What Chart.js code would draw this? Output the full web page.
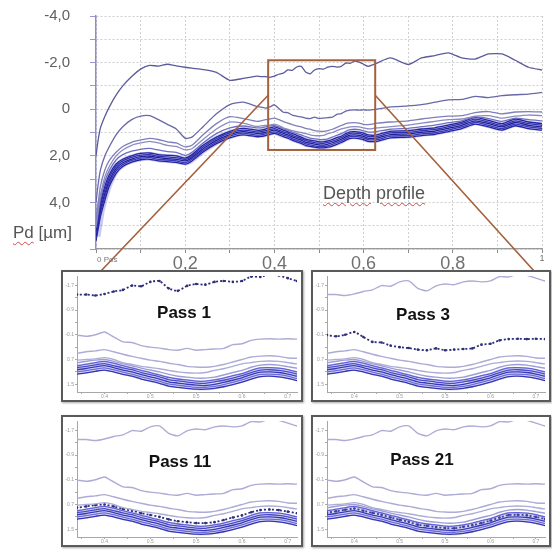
<!DOCTYPE html>
<html>
<head>
<meta charset="utf-8">
<script src="https://cdn.jsdelivr.net/npm/chart.js@4.4.1/dist/chart.umd.min.js"></script>
<style>
  body { margin: 0; background: #fff; width: 552px; height: 551px; position: relative; overflow: hidden;
         font-family: 'Liberation Sans', Arial, sans-serif; }
  #main { position: absolute; left: 0; top: 0; }
  .inset { position: absolute; box-sizing: border-box; border: 2px solid #5a5a5a; background: #fff;
           box-shadow: 1px 1px 2px rgba(0,0,0,0.35); }
  .inset canvas { position: absolute; left: 0; top: 0; }
  .pass { position: absolute; font-weight: bold; font-size: 17px; color: #111; transform: translate(-50%, -50%); white-space: nowrap; }
  .note { position: absolute; color: #555; white-space: nowrap; }
  .spell { text-decoration: underline wavy #d04a4a; text-decoration-thickness: 1px; text-underline-offset: 3px; }
</style>
</head>
<body>
<canvas id="main" width="552" height="272"></canvas>
<div class="note" style="left:13px;top:223px;font-size:17px"><span class="spell">Pd</span> [µm]</div>
<div class="note" style="left:323px;top:183px;font-size:18px"><span class="spell">Depth</span> <span class="spell">profile</span></div>
<div class="note" style="left:97px;top:255px;font-size:8px;color:#777">0 Pos</div>

<div class="inset" style="left:61px;top:270px;width:242px;height:132px">
  <canvas id="in1" width="238" height="128"></canvas><div class="pass" style="left:121px;top:41px">Pass 1</div></div>
<div class="inset" style="left:311px;top:270px;width:240px;height:132px">
  <canvas id="in3" width="236" height="128"></canvas><div class="pass" style="left:110px;top:43px">Pass 3</div></div>
<div class="inset" style="left:61px;top:415px;width:242px;height:132px">
  <canvas id="in11" width="238" height="128"></canvas><div class="pass" style="left:117px;top:45px">Pass 11</div></div>
<div class="inset" style="left:311px;top:415px;width:240px;height:132px">
  <canvas id="in21" width="236" height="128"></canvas><div class="pass" style="left:109px;top:43px">Pass 21</div></div>

<script>
// position along the scan (0 .. 1)
const xPos = [0, 0.005, 0.01, 0.02, 0.03, 0.045, 0.06, 0.08, 0.1, 0.12, 0.14, 0.16, 0.18, 0.2, 0.215, 0.24, 0.27, 0.3, 0.33,
  0.36, 0.37, 0.38, 0.39, 0.4, 0.41, 0.42, 0.43, 0.44, 0.45, 0.46, 0.47, 0.48, 0.49, 0.5, 0.51, 0.52, 0.53, 0.54, 0.55, 0.56, 0.57, 0.58, 0.59, 0.6, 0.61, 0.62, 0.63,
  0.66, 0.7, 0.73, 0.76, 0.79, 0.82, 0.85, 0.88, 0.91, 0.94, 0.97, 1.0];

// Pd depth in µm, one array per pass
const pass1 = [2.0, 1.3, 0.8, 0.3, -0.1, -0.6, -1.0, -1.4, -1.72, -1.88, -1.85, -1.93, -1.86, -1.8, -1.76, -1.7, -1.58, -1.24, -1.32,
  -1.42, -1.4, -1.4, -1.37, -1.42, -1.5, -1.55, -1.69, -1.67, -1.81, -1.84, -1.6, -1.52, -1.68, -1.74, -1.72, -1.81, -1.84, -1.81, -1.84, -1.98, -1.97, -2.06, -2.02, -1.93, -1.84, -1.9, -1.98,
  -2.2, -1.92, -2.2, -2.3, -2.42, -2.2, -2.15, -2.37, -2.37, -2.1, -1.8, -1.68];
const pass3 = [4.0, 3.2, 2.6, 2.0, 1.6, 1.1, 0.75, 0.45, 0.3, 0.28, 0.45, 0.65, 0.85, 1.25, 1.2, 0.75, 0.2, -0.2, -0.3,
  -0.12, -0.09, -0.05, -0.1, -0.19, -0.03, 0.13, 0.15, 0.25, 0.3, 0.33, 0.38, 0.4, 0.34, 0.4, 0.38, 0.36, 0.34, 0.22, 0.19, 0.08, 0.04, 0.03, 0.04, 0.03, 0.04, 0.02, 0.0,
  -0.1, -0.14, -0.2, -0.3, -0.4, -0.42, -0.55, -0.5, -0.58, -0.62, -0.65, -0.72];
const curveC = [4.8, 4.0, 3.3, 2.6, 2.2, 1.85, 1.6, 1.42, 1.32, 1.25, 1.3, 1.4, 1.45, 1.62, 1.55, 1.1, 0.62, 0.32, 0.4,
  0.52, 0.5, 0.45, 0.42, 0.38, 0.45, 0.53, 0.6, 0.66, 0.72, 0.76, 0.82, 0.86, 0.92, 0.94, 0.95, 0.92, 0.86, 0.78, 0.7, 0.62, 0.59, 0.58, 0.6, 0.65, 0.66, 0.64, 0.6,
  0.55, 0.5, 0.42, 0.35, 0.3, 0.28, 0.15, 0.1, 0.2, 0.12, 0.1, 0.12];
const curveD = [5.0, 4.3, 3.7, 2.9, 2.45, 2.0, 1.75, 1.55, 1.45, 1.38, 1.45, 1.55, 1.6, 1.75, 1.7, 1.3, 0.85, 0.55, 0.6,
  0.74, 0.72, 0.7, 0.68, 0.64, 0.7, 0.8, 0.86, 0.92, 0.96, 1.0, 1.05, 1.1, 1.13, 1.14, 1.12, 1.05, 1.0, 0.92, 0.84, 0.8, 0.76, 0.75, 0.76, 0.8, 0.84, 0.83, 0.8,
  0.75, 0.68, 0.6, 0.52, 0.45, 0.42, 0.3, 0.28, 0.38, 0.3, 0.25, 0.28];
const pass11 = [5.1, 4.45, 3.85, 3.1, 2.62, 2.18, 1.95, 1.8, 1.72, 1.68, 1.75, 1.82, 1.85, 1.98, 1.85, 1.45, 1.05, 0.8, 0.72,
  0.8, 0.8, 0.76, 0.72, 0.7, 0.76, 0.84, 0.9, 0.98, 1.04, 1.1, 1.18, 1.24, 1.27, 1.3, 1.3, 1.27, 1.2, 1.12, 1.05, 0.95, 0.88, 0.86, 0.88, 0.93, 0.98, 0.98, 0.96,
  0.86, 0.82, 0.75, 0.68, 0.58, 0.5, 0.33, 0.4, 0.52, 0.38, 0.45, 0.5];
const bundle1 = [5.2, 4.6, 4.0, 3.3, 2.8, 2.35, 2.15, 2.0, 1.9, 1.88, 1.95, 1.98, 2.0, 2.1, 1.95, 1.55, 1.2, 0.95, 0.82,
  0.9, 0.9, 0.85, 0.8, 0.76, 0.82, 0.9, 0.97, 1.05, 1.12, 1.2, 1.28, 1.33, 1.36, 1.4, 1.4, 1.36, 1.3, 1.22, 1.16, 1.05, 0.97, 0.96, 0.98, 1.03, 1.1, 1.12, 1.1,
  0.95, 0.92, 0.85, 0.8, 0.68, 0.55, 0.35, 0.48, 0.62, 0.42, 0.55, 0.62];
const pass21 = [5.35, 4.75, 4.15, 3.45, 2.92, 2.45, 2.22, 2.07, 1.97, 1.95, 2.02, 2.05, 2.08, 2.16, 2.02, 1.62, 1.27, 1.02, 0.9,
  0.97, 0.96, 0.92, 0.87, 0.83, 0.9, 0.97, 1.03, 1.12, 1.19, 1.26, 1.35, 1.39, 1.43, 1.46, 1.47, 1.42, 1.37, 1.3, 1.22, 1.12, 1.04, 1.03, 1.05, 1.1, 1.17, 1.18, 1.17,
  1.02, 0.99, 0.92, 0.87, 0.75, 0.62, 0.43, 0.55, 0.69, 0.5, 0.62, 0.69];
const bundle3 = [5.45, 4.9, 4.3, 3.6, 3.05, 2.55, 2.3, 2.14, 2.04, 2.02, 2.08, 2.12, 2.15, 2.22, 2.08, 1.7, 1.34, 1.09, 0.96,
  1.04, 1.03, 0.99, 0.94, 0.9, 0.96, 1.04, 1.1, 1.19, 1.26, 1.33, 1.42, 1.46, 1.5, 1.53, 1.54, 1.5, 1.44, 1.37, 1.29, 1.19, 1.11, 1.1, 1.12, 1.17, 1.24, 1.25, 1.24,
  1.09, 1.06, 0.99, 0.94, 0.82, 0.69, 0.5, 0.62, 0.76, 0.57, 0.69, 0.76];
const bundle4 = [5.55, 5.0, 4.45, 3.75, 3.18, 2.65, 2.38, 2.2, 2.1, 2.08, 2.15, 2.18, 2.22, 2.3, 2.15, 1.77, 1.41, 1.16, 1.03,
  1.11, 1.1, 1.06, 1.01, 0.97, 1.03, 1.11, 1.17, 1.26, 1.33, 1.4, 1.49, 1.53, 1.57, 1.6, 1.6, 1.57, 1.51, 1.44, 1.36, 1.26, 1.18, 1.17, 1.19, 1.24, 1.31, 1.32, 1.31,
  1.16, 1.13, 1.06, 1.01, 0.89, 0.76, 0.57, 0.69, 0.83, 0.64, 0.76, 0.83];
const bundle5 = [5.65, 5.12, 4.6, 3.9, 3.3, 2.75, 2.46, 2.27, 2.17, 2.15, 2.22, 2.25, 2.28, 2.36, 2.22, 1.84, 1.48, 1.23, 1.1,
  1.18, 1.17, 1.13, 1.08, 1.04, 1.1, 1.18, 1.24, 1.33, 1.4, 1.47, 1.56, 1.6, 1.63, 1.66, 1.66, 1.63, 1.58, 1.51, 1.43, 1.33, 1.25, 1.24, 1.26, 1.31, 1.38, 1.39, 1.38,
  1.23, 1.2, 1.13, 1.08, 0.96, 0.83, 0.64, 0.76, 0.9, 0.71, 0.83, 0.9];

// tick labels
const yTicks = [-4, -2, 0, 2, 4];
const yTickLabels = ['-4,0', '-2,0', '0', '2,0', '4,0'];
const xTicks = [0.2, 0.4, 0.6, 0.8, 1];
const xTickLabels = ['0,2', '0,4', '0,6', '0,8', '1'];
const insetYTicks = [-1.7, -1.3, -0.9, -0.5, -0.1, 0.3, 0.7, 1.1, 1.5];
const insetYLabels = ['-1.7', '', '-0.9', '', '-0.1', '', '0.7', '', '1.5'];
const insetXTicks = [0.375, 0.4, 0.425, 0.45, 0.475, 0.5, 0.525, 0.55, 0.575, 0.6];
const insetXLabels = ['', '0.4', '', '0.5', '', '0.5', '', '0.6', '', '0.7'];

// zoomed window
const zoomX = [0.386, 0.626];
const zoomY = [-2.1, 1.75];
const insetX = [0.37, 0.61];
const insetY = [-2.0, 1.75];

Chart.defaults.font.family = "'Liberation Sans', Arial, sans-serif";

const curves = [pass1, pass3, curveC, curveD, pass11, bundle1, pass21, bundle3, bundle4, bundle5];
const toPoints = arr => arr.map((v, i) => ({ x: xPos[i], y: v }));

function line(data, color, width, extra) {
  return Object.assign({ data: toPoints(data), borderColor: color, borderWidth: width, pointRadius: 0, fill: false }, extra || {});
}

// ---- main chart ----
const mainColors = ['#5b5b9c', '#6868a8', '#7f7fba', '#8b8bc4', '#6f6fc0', '#1c1c8e', '#2c2ca6', '#141480', '#3636b2', '#1a1a90'];
const mainSets = [];
for (let i = 0; i < 5; i++) mainSets.push(line(curves[i], mainColors[i], 1.3));
mainSets.push(line(bundle3, 'rgba(60,60,205,0.28)', 9));
for (let i = 5; i < curves.length; i++) mainSets.push(line(curves[i], mainColors[i], 1.3));

const zoomBox = {
  id: 'zoomBox',
  afterDatasetsDraw(chart) {
    const { ctx, scales: { x, y } } = chart;
    const l = x.getPixelForValue(zoomX[0]), r = x.getPixelForValue(zoomX[1]);
    const t = y.getPixelForValue(zoomY[0]), b = y.getPixelForValue(zoomY[1]);
    const m = y.getPixelForValue(-0.6);
    ctx.save();
    ctx.strokeStyle = '#a3623d';
    ctx.lineWidth = 2;
    ctx.strokeRect(l, t, r - l, b - t);
    ctx.lineWidth = 1.6;
    ctx.beginPath();
    ctx.moveTo(l, m); ctx.lineTo(100, 272);
    ctx.moveTo(r, m); ctx.lineTo(535, 272);
    ctx.stroke();
    ctx.restore();
  }
};

new Chart(document.getElementById('main'), {
  type: 'line',
  data: { datasets: mainSets },
  options: {
    responsive: false,
    animation: false,
    devicePixelRatio: 1,
    layout: { padding: { left: 0, right: 10, top: 16, bottom: 0 } },
    plugins: { legend: { display: false }, tooltip: { enabled: false } },
    elements: { line: { tension: 0.2 } },
    scales: {
      x: {
        type: 'linear', min: 0, max: 1,
        afterFit(s) { s.height = 23; },
        ticks: {
          stepSize: 0.1, autoSkip: false, maxRotation: 0, padding: 0, color: '#707070',
          font: c => ({ size: c.tick && c.tick.value > 0.95 ? 9 : 18 }),
          callback: v => { const i = xTicks.findIndex(t => Math.abs(t - v) < 1e-6); return i >= 0 ? xTickLabels[i] : ''; }
        },
        grid: { color: '#cfcfcf', lineWidth: 1, tickColor: '#8a8a8a', tickLength: 4 },
        border: { color: '#9a9a9a', width: 1.2, dash: [2, 2] }
      },
      y: {
        type: 'linear', reverse: true, min: -4, max: 6,
        afterFit(s) { s.width = 96; s.paddingTop = 0; s.paddingBottom = 0; },
        ticks: {
          stepSize: 1, autoSkip: false, padding: 20, color: '#606060', font: { size: 15 },
          callback: v => { const i = yTicks.indexOf(v); return i >= 0 ? yTickLabels[i] : ''; }
        },
        grid: { color: '#cfcfcf', lineWidth: 1, tickColor: '#9a9ad0', tickLength: 6 },
        border: { color: '#8d8dca', width: 1.5, dash: [2, 2] }
      }
    }
  },
  plugins: [zoomBox]
});

// ---- zoomed insets ----
const insetColors = ['#acacd6', '#acacd6', '#acacd6', '#acacd6', '#9d9dd8', '#5a5acb', '#3a3ab8', '#2222a0', '#6a6ad2', '#1e1e9a'];

function makeInset(id, hi) {
  const sets = [];
  for (let i = 0; i < 5; i++) if (i !== hi) sets.push(line(curves[i], insetColors[i], 1.4));
  sets.push(line(bundle3, 'rgba(115,115,235,0.28)', 10));
  for (let i = 5; i < curves.length; i++) if (i !== hi) sets.push(line(curves[i], insetColors[i], 1.3));
  sets.push(line(curves[hi], '#2e2e7a', 1.8, {
    borderDash: [2, 2], pointRadius: 1.3, pointBackgroundColor: '#2e2e7a', pointBorderWidth: 0
  }));
  new Chart(document.getElementById(id), {
    type: 'line',
    data: { datasets: sets },
    options: {
      responsive: false,
      animation: false,
      devicePixelRatio: 1,
      layout: { padding: { left: 0, right: 1, top: 0, bottom: 0 } },
      plugins: { legend: { display: false }, tooltip: { enabled: false } },
      elements: { line: { tension: 0.2 } },
      scales: {
        x: {
          type: 'linear', min: insetX[0], max: insetX[1],
          afterFit(s) { s.height = 8; },
          afterBuildTicks(s) { s.ticks = insetXTicks.map(v => ({ value: v })); },
          ticks: { autoSkip: false, maxRotation: 0, padding: 0, color: '#999', font: { size: 5 },
                   callback: (v, i) => insetXLabels[i] },
          grid: { drawOnChartArea: false, tickColor: '#aaa', tickLength: 2 },
          border: { color: '#a8a8a8', width: 1 }
        },
        y: {
          type: 'linear', reverse: true, min: insetY[0], max: insetY[1],
          afterFit(s) { s.width = 14; s.paddingTop = 0; s.paddingBottom = 0; },
          afterBuildTicks(s) { s.ticks = insetYTicks.map(v => ({ value: v })); },
          ticks: { autoSkip: false, padding: 1, color: '#999', font: { size: 5 },
                   callback: (v, i) => insetYLabels[i] },
          grid: { drawOnChartArea: false, tickColor: '#aaa', tickLength: 2 },
          border: { color: '#a0a0d8', width: 1 }
        }
      }
    }
  });
}

makeInset('in1', 0);
makeInset('in3', 1);
makeInset('in11', 4);
makeInset('in21', 6);
</script>
</body>
</html>
